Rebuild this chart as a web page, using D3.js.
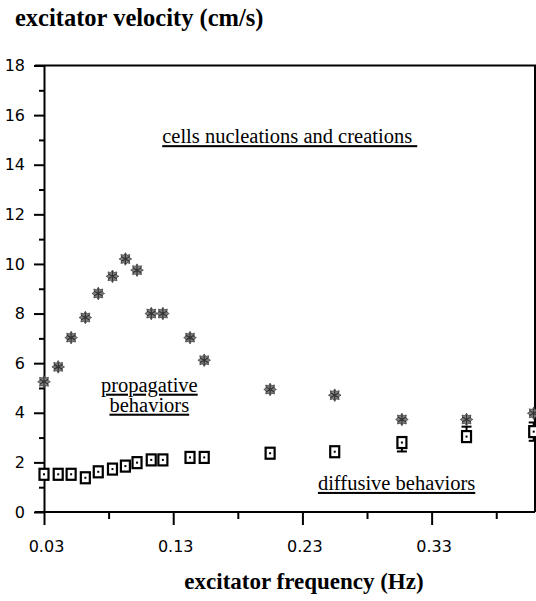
<!DOCTYPE html>
<html>
<head>
<meta charset="utf-8">
<script src="https://cdn.jsdelivr.net/npm/d3@7"></script>
<style>
  html, body { margin: 0; padding: 0; background: #fff; }
  svg { display: block; }
</style>
</head>
<body>
<svg id="chart" width="536" height="601"></svg>
<script>
// ---- data ----
const frequency = [0.030, 0.041, 0.051, 0.062, 0.072, 0.083, 0.093, 0.102, 0.113, 0.122, 0.143, 0.154, 0.205, 0.255, 0.307, 0.357, 0.409];
const velocityPropagative = [5.25, 5.85, 7.03, 7.84, 8.81, 9.50, 10.20, 9.75, 8.00, 8.00, 7.03, 6.12, 4.94, 4.71, 3.73, 3.73, 3.98];
const velocityDiffusive = [1.52, 1.52, 1.52, 1.38, 1.62, 1.73, 1.85, 1.99, 2.10, 2.10, 2.20, 2.20, 2.37, 2.43, 2.80, 3.04, 3.24];
const diffusiveErrLow  = [0, 0, 0, 0, 0, 0, 0, 0, 0, 0, 0, 0, 0, 0, 0.36, 0, 0.37];
const diffusiveErrHigh = [0, 0, 0, 0, 0, 0, 0, 0, 0, 0, 0, 0, 0, 0, 0, 0.40, 0.37];
const xMajorTicks = [0.03, 0.13, 0.23, 0.33];
const xMinorTicks = [0.08, 0.18, 0.28, 0.38];
const yMajorTicks = [0, 2, 4, 6, 8, 10, 12, 14, 16, 18];
const yMinorTicks = [1, 3, 5, 7, 9, 11, 13, 15, 17];
const yTitle = "excitator velocity (cm/s)";
const xTitle = "excitator frequency (Hz)";
const annotations = [
  { lines: ["cells nucleations and creations "], f: 0.1215, v: 14.87, anchor: "start" },
  { lines: ["propagative", "behaviors"], f: 0.1115, v: 4.85, anchor: "middle" },
  { lines: ["diffusive behaviors"], f: 0.242, v: 0.89, anchor: "start" }
];

// ---- layout ----
const svg = d3.select("#chart");
const x = d3.scaleLinear().domain([0.03, 0.41]).range([44, 535]);
const y = d3.scaleLinear().domain([0, 18]).range([512, 65.5]);
const sansFont = "'DejaVu Sans', Verdana, sans-serif";
const serifFont = "'Liberation Serif', 'Times New Roman', serif";

// frame lines
const frame = svg.append("g").attr("stroke", "#000").attr("stroke-width", 2).attr("fill", "none");
frame.append("line").attr("x1", 35).attr("x2", 536).attr("y1", y(18)).attr("y2", y(18));
frame.append("line").attr("x1", 535).attr("x2", 535).attr("y1", y(18)).attr("y2", y(0));
frame.append("line").attr("x1", 35).attr("x2", 535).attr("y1", y(0)).attr("y2", y(0));

// y axis (major + minor)
const yAxisMajor = svg.append("g").attr("transform", `translate(${x(0.03)},0)`)
  .call(d3.axisLeft(y).tickValues(yMajorTicks).tickSize(10).tickSizeOuter(0).tickPadding(9).tickFormat(d3.format("d")));
const yAxisMinor = svg.append("g").attr("transform", `translate(${x(0.03)},0)`)
  .call(d3.axisLeft(y).tickValues(yMinorTicks).tickSize(5).tickSizeOuter(0).tickFormat(""));
yAxisMinor.select(".domain").remove();

// x axis (major + minor)
const xAxisMajor = svg.append("g").attr("transform", `translate(0,${y(0)})`)
  .call(d3.axisBottom(x).tickValues(xMajorTicks).tickSize(13).tickSizeOuter(0).tickPadding(16).tickFormat(d3.format(".2f")));
xAxisMajor.select(".domain").remove();
const xAxisMinor = svg.append("g").attr("transform", `translate(0,${y(0)})`)
  .call(d3.axisBottom(x).tickValues(xMinorTicks).tickSize(7).tickSizeOuter(0).tickFormat(""));
xAxisMinor.select(".domain").remove();

[yAxisMajor, yAxisMinor, xAxisMajor, xAxisMinor].forEach(g => {
  g.selectAll("line").attr("stroke", "#000").attr("stroke-width", 2);
  g.selectAll(".domain").attr("stroke", "#000").attr("stroke-width", 2);
  g.selectAll("text").attr("fill", "#000").style("font-family", sansFont).style("font-size", "16px");
});
xAxisMajor.selectAll("text").attr("dx", 2);

// titles
svg.append("text").attr("x", 15).attr("y", 26)
  .style("font-family", serifFont).style("font-weight", "bold").style("font-size", "24.5px")
  .text(yTitle);
svg.append("text").attr("x", 304).attr("y", 589).attr("text-anchor", "middle")
  .style("font-family", serifFont).style("font-weight", "bold").style("font-size", "23px")
  .text(xTitle);

// annotations (underlined)
annotations.forEach(a => {
  a.lines.forEach((ln, i) => {
    svg.append("text")
      .attr("x", x(a.f)).attr("y", y(a.v) + i * 20)
      .attr("text-anchor", a.anchor)
      .style("font-family", serifFont).style("font-size", "20.5px")
      .style("text-decoration", "underline")
      .style("white-space", "pre")
      .attr("xml:space", "preserve")
      .text(ln);
  });
});

// error bars for diffusive series
const errG = svg.append("g").attr("stroke", "#000").attr("stroke-width", 2);
frequency.forEach((f, i) => {
  const cx = x(f), cy = y(velocityDiffusive[i]);
  if (diffusiveErrLow[i] > 0) {
    errG.append("line").attr("x1", cx - 5).attr("x2", cx + 5)
      .attr("y1", y(velocityDiffusive[i] - diffusiveErrLow[i])).attr("y2", y(velocityDiffusive[i] - diffusiveErrLow[i]));
    errG.append("line").attr("x1", cx).attr("x2", cx).attr("y1", cy).attr("y2", y(velocityDiffusive[i] - diffusiveErrLow[i]));
  }
  if (diffusiveErrHigh[i] > 0) {
    errG.append("line").attr("x1", cx - 5).attr("x2", cx + 5)
      .attr("y1", y(velocityDiffusive[i] + diffusiveErrHigh[i])).attr("y2", y(velocityDiffusive[i] + diffusiveErrHigh[i]));
    errG.append("line").attr("x1", cx).attr("x2", cx).attr("y1", cy).attr("y2", y(velocityDiffusive[i] + diffusiveErrHigh[i]));
  }
});

// diffusive squares
const sq = svg.append("g").selectAll("g").data(frequency.map((f, i) => ({ f, v: velocityDiffusive[i] })))
  .join("g").attr("transform", d => `translate(${x(d.f)},${y(d.v)})`);
sq.append("rect").attr("x", -4.5).attr("y", -5.5).attr("width", 9).attr("height", 11)
  .attr("fill", "#fff").attr("stroke", "#000").attr("stroke-width", 2.2);
sq.append("rect").attr("x", -1).attr("y", -1).attr("width", 2).attr("height", 2).attr("fill", "#000");

// propagative stars
function starPath(rOut, rIn, n) {
  const pts = [];
  for (let k = 0; k < 2 * n; k++) {
    const r = k % 2 === 0 ? rOut : rIn;
    const a = Math.PI * k / n - Math.PI / 2;
    pts.push([r * Math.cos(a), r * Math.sin(a)]);
  }
  return d3.line()(pts) + "Z";
}
const st = svg.append("g").selectAll("g").data(frequency.map((f, i) => ({ f, v: velocityPropagative[i] })))
  .join("g").attr("transform", d => `translate(${x(d.f)},${y(d.v)})`);
st.append("path").attr("d", starPath(6.3, 4, 8)).attr("fill", "#808080").attr("stroke", "#444").attr("stroke-width", 0.8);
st.append("path").attr("d", d3.symbol(d3.symbolAsterisk, 70)()).attr("stroke", "#333").attr("stroke-width", 1.2).attr("fill", "none");
</script>
</body>
</html>
